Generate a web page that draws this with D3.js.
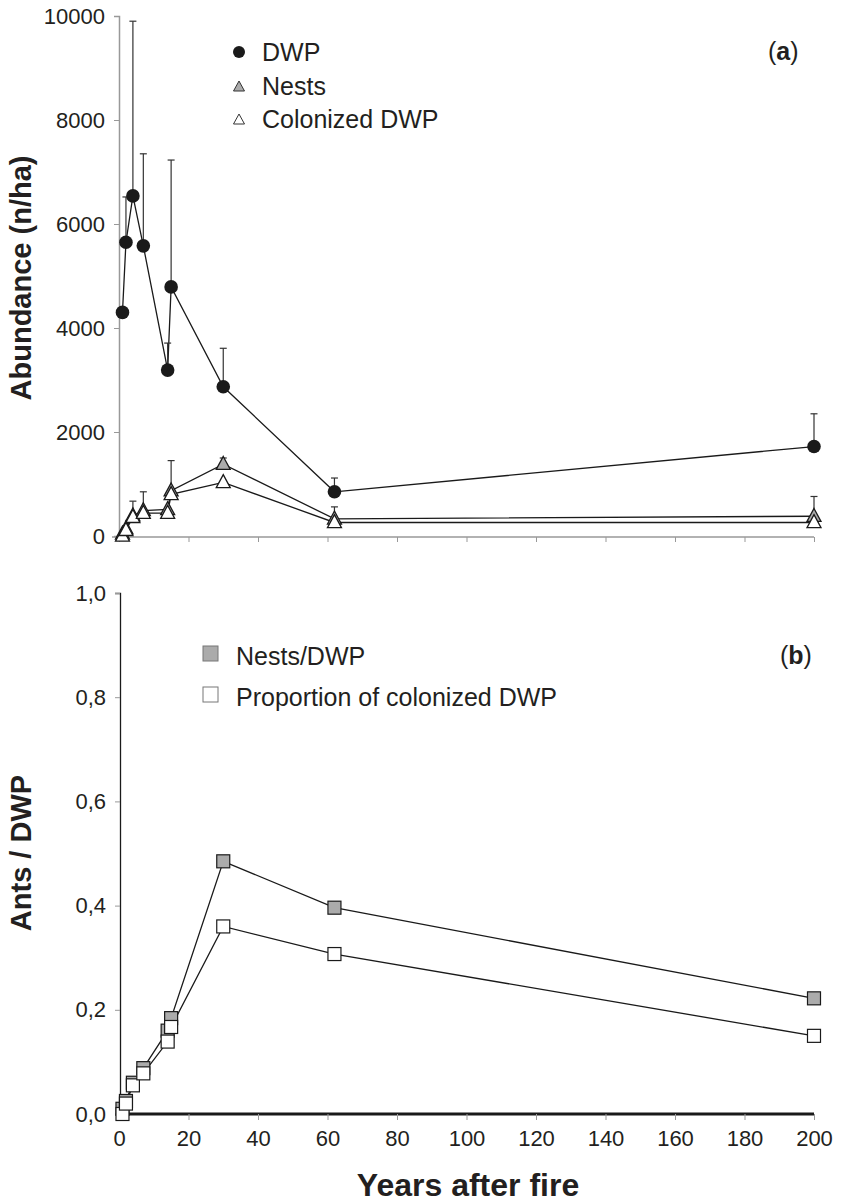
<!DOCTYPE html>
<html>
<head>
<meta charset="utf-8">
<script src="https://cdn.jsdelivr.net/npm/d3@7"></script>
<style>
  body { margin: 0; background: #fff; }
  svg text { font-family: "Liberation Sans", Arial, sans-serif; fill: #231f20; }
</style>
</head>
<body>
<svg id="chart" width="841" height="1204"></svg>
<script>
// years after fire (shared by both panels)
const years = [1, 2, 4, 7, 14, 15, 30, 62, 200];

// panel (a): abundance, n/ha
const dwp = [4300, 5650, 6540, 5580, 3190, 4790, 2870, 850, 1720];
const dwpErrTop = [null, 6520, 9900, 7350, 3710, 7230, 3610, 1115, 2350];
const nests = [40, 140, 390, 490, 510, 870, 1380, 330, 380];
const nestsErrTop = [null, null, 670, 850, null, 1450, 1500, 560, 760];
const colonized = [0, 110, 360, 440, 440, 800, 1030, 260, 260];

// panel (b): ratios
const nestsPerDwp = [0.01, 0.025, 0.06, 0.088, 0.16, 0.184, 0.485, 0.396, 0.222];
const propColonized = [0.0, 0.02, 0.055, 0.078, 0.139, 0.167, 0.36, 0.307, 0.15];

const xTicks = [0, 20, 40, 60, 80, 100, 120, 140, 160, 180, 200];
const yTicksA = [0, 2000, 4000, 6000, 8000, 10000];
const yTicksB = [0, 0.2, 0.4, 0.6, 0.8, 1.0];

const svg = d3.select('#chart');

const x = d3.scaleLinear().domain([0, 200]).range([119, 814]);
const yA = d3.scaleLinear().domain([0, 10000]).range([536, 16]);
const yB = d3.scaleLinear().domain([0, 1]).range([1114, 593]);

const gray = "#ababab";

function triangle(cx, cy, w, h) {
    return "M" + cx + "," + (cy - h * 0.6) + "L" + (cx + w / 2) + "," + (cy + h * 0.4) +
           "L" + (cx - w / 2) + "," + (cy + h * 0.4) + "Z";
}

// ---------- panel (a) ----------
const gA = svg.append("g");

const axisYA = gA.append("g")
        .attr("transform", "translate(119,0)")
        .call(d3.axisLeft(yA).tickValues(yTicksA).tickSize(5).tickPadding(9).tickFormat(d3.format("d")));
axisYA.select(".domain").attr("stroke", "#999").attr("stroke-width", 1.5);
axisYA.selectAll(".tick line").attr("stroke", "#999");
axisYA.selectAll(".tick text").attr("font-size", 22).attr("fill", "#231f20");

const axisXA = gA.append("g")
        .attr("transform", "translate(0,537)")
        .call(d3.axisBottom(x).tickValues(xTicks).tickSize(5).tickFormat(""));
axisXA.select(".domain").attr("stroke", "#999").attr("stroke-width", 1.5).attr("d", "M112,0H814");
axisXA.selectAll(".tick line").attr("stroke", "#999");

const lineA = (vals) => d3.line().x((d, i) => x(years[i])).y(d => yA(d))(vals);

[dwp, nests, colonized].forEach(s => {
    gA.append("path").attr("d", lineA(s)).attr("fill", "none")
        .attr("stroke", "#1a1a1a").attr("stroke-width", 1.3);
});

function errBars(g, vals, tops, yScale) {
    vals.forEach((v, i) => {
        if (tops[i] == null) return;
        const cx = x(years[i]);
        g.append("line").attr("x1", cx).attr("x2", cx)
            .attr("y1", yScale(v)).attr("y2", yScale(tops[i]))
            .attr("stroke", "#333").attr("stroke-width", 1.2);
        g.append("line").attr("x1", cx - 3.5).attr("x2", cx + 3.5)
            .attr("y1", yScale(tops[i])).attr("y2", yScale(tops[i]))
            .attr("stroke", "#333").attr("stroke-width", 1.2);
    });
}
errBars(gA, dwp, dwpErrTop, yA);
errBars(gA, nests, nestsErrTop, yA);

gA.selectAll("circle.dwp").data(dwp).enter().append("circle")
        .attr("class", "dwp")
        .attr("cx", (d, i) => x(years[i]))
        .attr("cy", d => yA(d))
        .attr("r", 6.8)
        .attr("fill", "#1a1a1a");

gA.selectAll("path.nests").data(nests).enter().append("path")
        .attr("class", "nests")
        .attr("d", (d, i) => triangle(x(years[i]), yA(d), 14, 13))
        .attr("fill", gray).attr("stroke", "#1a1a1a").attr("stroke-width", 1.3);

gA.selectAll("path.colon").data(colonized).enter().append("path")
        .attr("class", "colon")
        .attr("d", (d, i) => triangle(x(years[i]), yA(d), 14, 13))
        .attr("fill", "#fff").attr("stroke", "#1a1a1a").attr("stroke-width", 1.3);

// legend (a)
gA.append("circle").attr("cx", 239).attr("cy", 52).attr("r", 6).attr("fill", "#1a1a1a");
gA.append("path").attr("d", triangle(239, 87, 11, 10)).attr("fill", gray).attr("stroke", "#333");
gA.append("path").attr("d", triangle(239, 120, 11, 10)).attr("fill", "#fff").attr("stroke", "#333");
gA.append("text").attr("x", 262).attr("y", 61).attr("font-size", 25).text("DWP");
gA.append("text").attr("x", 262).attr("y", 95).attr("font-size", 25).text("Nests");
gA.append("text").attr("x", 262).attr("y", 128).attr("font-size", 25).text("Colonized DWP");

const labA = gA.append("text").attr("x", 768).attr("y", 60).attr("font-size", 25);
labA.append("tspan").text("(");
labA.append("tspan").attr("font-weight", "bold").text("a");
labA.append("tspan").text(")");

gA.append("text")
        .attr("transform", "translate(31,278) rotate(-90)")
        .attr("text-anchor", "middle")
        .attr("font-size", 29).attr("font-weight", "bold")
        .text("Abundance (n/ha)");

// ---------- panel (b) ----------
const gB = svg.append("g");

const axisYB = gB.append("g")
        .attr("transform", "translate(120,0)")
        .call(d3.axisLeft(yB).tickValues(yTicksB).tickSize(5).tickPadding(9)
            .tickFormat(d => d.toFixed(1).replace(".", ",")));
axisYB.select(".domain").attr("stroke", "#1a1a1a").attr("stroke-width", 1.3);
axisYB.selectAll(".tick line").attr("stroke", "#999");
axisYB.selectAll(".tick text").attr("font-size", 22).attr("fill", "#231f20");

const axisXB = gB.append("g")
        .attr("transform", "translate(0,1114)")
        .call(d3.axisBottom(x).tickValues(xTicks).tickSize(6).tickPadding(10));
axisXB.select(".domain").attr("stroke", "#1a1a1a").attr("stroke-width", 3).attr("d", "M120,0H814");
axisXB.selectAll(".tick line").attr("stroke", "#999");
axisXB.selectAll(".tick text").attr("font-size", 22).attr("fill", "#231f20");

const lineB = (vals) => d3.line().x((d, i) => x(years[i])).y(d => yB(d))(vals);
[nestsPerDwp, propColonized].forEach(s => {
    gB.append("path").attr("d", lineB(s)).attr("fill", "none")
        .attr("stroke", "#1a1a1a").attr("stroke-width", 1.3);
});

const sq = 13;
gB.selectAll("rect.npd").data(nestsPerDwp).enter().append("rect")
        .attr("class", "npd")
        .attr("x", (d, i) => x(years[i]) - sq / 2)
        .attr("y", d => yB(d) - sq / 2)
        .attr("width", sq).attr("height", sq)
        .attr("fill", gray).attr("stroke", "#1a1a1a").attr("stroke-width", 1.2);

gB.selectAll("rect.pc").data(propColonized).enter().append("rect")
        .attr("class", "pc")
        .attr("x", (d, i) => x(years[i]) - sq / 2)
        .attr("y", d => yB(d) - sq / 2)
        .attr("width", sq).attr("height", sq)
        .attr("fill", "#fff").attr("stroke", "#1a1a1a").attr("stroke-width", 1.2);

// legend (b)
gB.append("rect").attr("x", 203).attr("y", 646).attr("width", 15).attr("height", 15)
        .attr("fill", gray).attr("stroke", "#777");
gB.append("rect").attr("x", 203).attr("y", 687).attr("width", 15).attr("height", 15)
        .attr("fill", "#fff").attr("stroke", "#777");
gB.append("text").attr("x", 236).attr("y", 665).attr("font-size", 25).text("Nests/DWP");
gB.append("text").attr("x", 236).attr("y", 706).attr("font-size", 25).text("Proportion of colonized DWP");

const labB = gB.append("text").attr("x", 780).attr("y", 664).attr("font-size", 25);
labB.append("tspan").text("(");
labB.append("tspan").attr("font-weight", "bold").text("b");
labB.append("tspan").text(")");

gB.append("text")
        .attr("transform", "translate(31,853) rotate(-90)")
        .attr("text-anchor", "middle")
        .attr("font-size", 29).attr("font-weight", "bold")
        .text("Ants / DWP");

svg.append("text")
        .attr("x", 468).attr("y", 1196)
        .attr("text-anchor", "middle")
        .attr("font-size", 32).attr("font-weight", "bold")
        .text("Years after fire");
</script>
</body>
</html>
